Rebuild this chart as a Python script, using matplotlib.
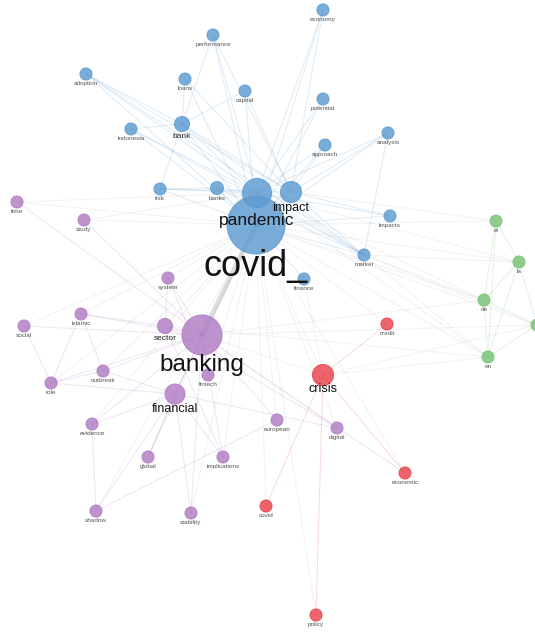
import matplotlib.pyplot as plt
import numpy as np

# node data (layout coordinates, cluster, weight)
names = ["economy", "performance", "adoption", "loans", "capital", "potential",
         "indonesia", "bank", "approach", "analysis", "risk", "banks",
         "pandemic", "covid_", "impact", "impacts", "market", "finance",
         "time", "study", "system", "islamic", "social", "sector", "banking",
         "fintech", "outbreak", "role", "financial", "evidence", "global",
         "implications", "european", "digital", "shadow", "stability",
         "credit", "crisis", "economic", "covid", "policy",
         "el", "la", "de", "en", "es"]
layout_x = [323, 213, 86, 185, 245, 323, 131, 182, 325, 388, 160, 217,
            257, 256, 291, 390, 364, 304,
            17, 84, 168, 81, 24, 165, 202, 208, 103, 51, 175, 92, 148, 223,
            277, 337, 96, 191,
            387, 323, 405, 266, 316,
            496, 519, 484, 488, 537]
layout_y = [10, 35, 74, 79, 91, 99, 129, 124, 145, 133, 189, 188,
            193, 225, 192, 216, 255, 279,
            202, 220, 278, 314, 326, 326, 335, 375, 371, 383, 394, 424, 457, 457,
            420, 428, 511, 513,
            324, 375, 473, 506, 615,
            221, 262, 300, 357, 325]
cluster = [0] * 18 + [1] * 18 + [2] * 5 + [3] * 5
weight = [6, 6, 6, 6, 6, 6, 6, 7.5, 6, 6, 6, 6.5,
          14.5, 29, 10.5, 6, 6, 6,
          6, 6, 6, 6, 6, 7.5, 20, 6, 6, 6, 10, 6, 6, 6, 6, 6, 6, 6,
          6, 10.5, 6, 6, 6,
          6, 6, 6, 6, 6]

edges = [
    ("covid_", n) for n in names if n not in ("covid_",)
] + [
    ("pandemic", "economy"), ("pandemic", "performance"), ("pandemic", "approach"),
    ("pandemic", "analysis"), ("pandemic", "bank"), ("pandemic", "adoption"),
    ("pandemic", "indonesia"), ("pandemic", "banks"), ("pandemic", "risk"),
    ("pandemic", "impacts"), ("pandemic", "market"), ("pandemic", "potential"),
    ("pandemic", "time"), ("pandemic", "study"), ("pandemic", "la"),
    ("pandemic", "en"), ("pandemic", "de"),
    ("bank", "indonesia"), ("bank", "adoption"), ("bank", "loans"),
    ("bank", "capital"), ("bank", "risk"), ("bank", "performance"),
    ("bank", "impact"), ("bank", "market"), ("indonesia", "market"),
    ("adoption", "impact"), ("adoption", "market"), ("performance", "impact"),
    ("impact", "approach"), ("impact", "analysis"), ("impact", "market"),
    ("impact", "economy"), ("impact", "capital"), ("impact", "risk"),
    ("impact", "impacts"), ("impact", "el"), ("market", "analysis"),
    ("market", "en"), ("market", "la"), ("finance", "crisis"),
    ("risk", "banks"), ("banks", "market"), ("loans", "impact"),
    ("banking", "study"), ("banking", "system"), ("banking", "islamic"),
    ("banking", "social"), ("banking", "sector"), ("banking", "financial"),
    ("banking", "fintech"), ("banking", "outbreak"), ("banking", "role"),
    ("banking", "evidence"), ("banking", "global"), ("banking", "implications"),
    ("banking", "stability"), ("banking", "european"), ("banking", "digital"),
    ("banking", "economic"), ("banking", "crisis"), ("banking", "de"),
    ("banking", "es"), ("banking", "time"),
    ("financial", "role"), ("financial", "evidence"), ("financial", "shadow"),
    ("financial", "global"), ("financial", "stability"), ("financial", "outbreak"),
    ("financial", "implications"), ("financial", "digital"),
    ("islamic", "role"), ("islamic", "outbreak"), ("islamic", "sector"),
    ("role", "outbreak"), ("role", "social"), ("evidence", "shadow"),
    ("system", "sector"), ("system", "fintech"), ("sector", "implications"),
    ("shadow", "european"), ("sector", "digital"), ("digital", "economic"),
    ("crisis", "credit"), ("crisis", "economic"), ("crisis", "covid"),
    ("crisis", "policy"), ("crisis", "en"), ("crisis", "es"),
    ("el", "la"), ("el", "de"), ("el", "en"), ("la", "de"), ("la", "en"),
    ("la", "es"), ("de", "es"), ("en", "es"), ("de", "en"),
    ("market", "de"), ("market", "es"), ("sector", "en"),
]

cluster_colors = ["#5e9bd1", "#b07cc4", "#e9434c", "#77c375"]
idx = {n: i for i, n in enumerate(names)}

fig = plt.figure(figsize=(5.35, 6.33), dpi=100)
ax = fig.add_axes([0, 0, 1, 1])
ax.set_xlim(0, 535)
ax.set_ylim(633, 0)
ax.set_aspect("equal")
ax.axis("off")

for a, b in edges:
    i, j = idx[a], idx[b]
    if (a, b) == ("covid_", "banking"):
        col, alpha, lw = "#aaaaaa", 0.4, 3.5
    elif cluster[i] == cluster[j]:
        col, alpha, lw = cluster_colors[cluster[i]], 0.18, 0.8
    else:
        col, alpha, lw = "#a0a0aa", 0.12, 0.8
    ax.plot([layout_x[i], layout_x[j]], [layout_y[i], layout_y[j]],
            color=col, alpha=alpha, lw=lw, zorder=1, solid_capstyle="round")

# nodes: draw big ones first
order = np.argsort(weight)[::-1]
for k in order:
    r = weight[k]
    c = cluster_colors[cluster[k]]
    circ = plt.Circle((layout_x[k], layout_y[k]), r, facecolor=c, edgecolor=c,
                      alpha=0.82, lw=0.8, zorder=2)
    ax.add_patch(circ)

label_dy = {"pandemic": 20, "covid_": 24, "impact": 10, "banking": 19,
            "crisis": 8, "financial": 9}

for k, n in enumerate(names):
    if layout_x[k] > 525:
        continue  # label falls outside the visible map
    r = weight[k]
    if r >= 9.5:
        fs = {"covid_": 26, "banking": 17.5, "pandemic": 12.5}.get(n, 9)
        col = "#111111"
    elif r >= 7:
        fs, col = 6, "#222222"
    else:
        fs, col = 4.6, "#555555"
    dy = label_dy.get(n, r + 1)
    ax.text(layout_x[k], layout_y[k] + dy, n, ha="center", va="top",
            fontsize=fs, color=col, family=["Liberation Sans", "DejaVu Sans"],
            zorder=3)

fig.savefig("out.png", dpi=100, facecolor="white")
